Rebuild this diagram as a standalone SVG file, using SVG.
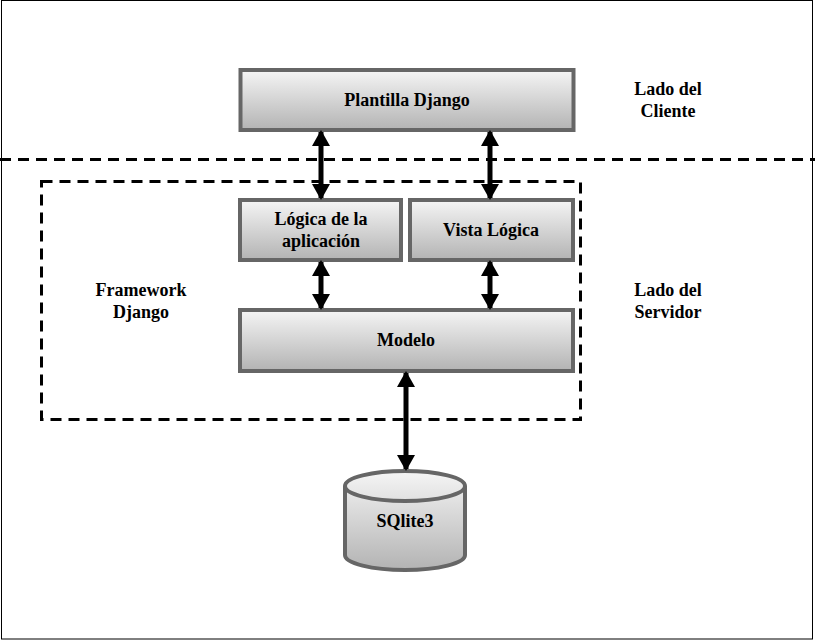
<svg xmlns="http://www.w3.org/2000/svg" width="815" height="641" viewBox="0 0 815 641">
<defs>
<linearGradient id="g" x1="0" y1="0" x2="0" y2="1">
<stop offset="0" stop-color="#f5f5f5"/>
<stop offset="1" stop-color="#b3b3b3"/>
</linearGradient>
<marker id="ah" viewBox="0 0 16 18" refX="14" refY="9" markerWidth="16" markerHeight="18" markerUnits="userSpaceOnUse" orient="auto-start-reverse">
<path d="M0,0 L16,9 L0,18 Z" fill="#000"/>
</marker>
<style>
.box{fill:url(#g);stroke:#666;stroke-width:4}
.t{font-family:"Liberation Serif","Times New Roman",serif;font-weight:bold;font-size:18px;fill:#000;text-anchor:middle}
.dash{fill:none;stroke:#000;stroke-width:3;stroke-dasharray:11 7}
.arr{stroke:#000;stroke-width:5;fill:none;marker-start:url(#ah);marker-end:url(#ah)}
</style>
</defs>
<rect x="1.5" y="0.5" width="811" height="638.5" fill="#fff" stroke="#000" stroke-width="1"/>
<g id="separator"><line x1="0" y1="159.5" x2="815" y2="159.5" class="dash"/></g>
<g id="framework-frame"><rect x="41.5" y="181.5" width="539" height="238" class="dash"/></g>
<g id="lbl-cliente"><text class="t" x="668" y="95">Lado del</text><text class="t" x="668" y="117">Cliente</text></g>
<g id="lbl-servidor"><text class="t" x="668" y="296">Lado del</text><text class="t" x="668" y="318">Servidor</text></g>
<g id="lbl-framework"><text class="t" x="141" y="296">Framework</text><text class="t" x="141" y="318">Django</text></g>
<g id="plantilla"><rect class="box" x="240.5" y="70" width="333" height="60"/><text class="t" x="407" y="106">Plantilla Django</text></g>
<g id="logica"><rect class="box" x="240" y="200" width="161" height="60"/><text class="t" x="321" y="225">Lógica de la</text><text class="t" x="321" y="247">aplicación</text></g>
<g id="vista"><rect class="box" x="410" y="200" width="163" height="60"/><text class="t" x="491" y="236">Vista Lógica</text></g>
<g id="modelo"><rect class="box" x="240" y="310" width="333" height="61"/><text class="t" x="406" y="346">Modelo</text></g>
<g id="sqlite">
<path class="box" d="M345,486 A60,15 0 0 1 465,486 L465,555 A60,15 0 0 1 345,555 Z"/>
<path d="M345,486 A60,15 0 0 0 465,486" fill="none" stroke="#666" stroke-width="4"/>
<text class="t" x="405" y="527">SQlite3</text>
</g>
<g id="connectors">
<line class="arr" x1="321" y1="132" x2="321" y2="198"/>
<line class="arr" x1="490" y1="132" x2="490" y2="198"/>
<line class="arr" x1="321" y1="262" x2="321" y2="308"/>
<line class="arr" x1="490" y1="262" x2="490" y2="308"/>
<line class="arr" x1="406" y1="373" x2="406" y2="469"/>
</g>
</svg>
